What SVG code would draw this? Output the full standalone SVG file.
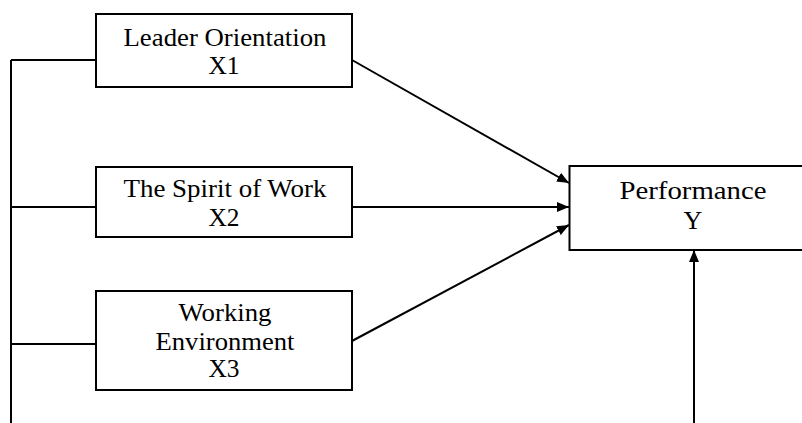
<svg xmlns="http://www.w3.org/2000/svg" width="802" height="423" viewBox="0 0 802 423">
<style>
.box{fill:#fff;stroke:#000;stroke-width:2}
.t{font-family:'Liberation Serif','Times New Roman',serif;font-size:25px;fill:#000;text-anchor:middle}
.c{stroke:#000;stroke-width:2;fill:none}
</style>
<defs>
<marker id="ah" viewBox="0 0 12 10" refX="12" refY="5" markerWidth="12" markerHeight="10" markerUnits="userSpaceOnUse" orient="auto">
<path d="M0,0 L12,5 L0,10 Z" fill="#000"/>
</marker>
</defs>
<g id="connectors">
<path class="c" d="M11,60 V423"/>
<path class="c" d="M11,60 H96"/>
<path class="c" d="M11,207 H96"/>
<path class="c" d="M11,344 H96"/>
<path class="c" d="M352,60 L569,183" marker-end="url(#ah)"/>
<path class="c" d="M352,207 L569,207" marker-end="url(#ah)"/>
<path class="c" d="M352,341 L569,225" marker-end="url(#ah)"/>
<path class="c" d="M694,423 V250" marker-end="url(#ah)"/>
</g>
<g id="x1">
<rect class="box" x="96" y="14" width="256" height="73"/>
<text class="t" x="225" y="46" textLength="203" lengthAdjust="spacingAndGlyphs">Leader Orientation</text>
<text class="t" x="224" y="74" textLength="31" lengthAdjust="spacingAndGlyphs">X1</text>
</g>
<g id="x2">
<rect class="box" x="96" y="167" width="256" height="70"/>
<text class="t" x="225" y="197" textLength="203" lengthAdjust="spacingAndGlyphs">The Spirit of Work</text>
<text class="t" x="224" y="226" textLength="31" lengthAdjust="spacingAndGlyphs">X2</text>
</g>
<g id="x3">
<rect class="box" x="96" y="291" width="256" height="99"/>
<text class="t" x="225" y="321" textLength="93" lengthAdjust="spacingAndGlyphs">Working</text>
<text class="t" x="225" y="350" textLength="139" lengthAdjust="spacingAndGlyphs">Environment</text>
<text class="t" x="224" y="377" textLength="31" lengthAdjust="spacingAndGlyphs">X3</text>
</g>
<g id="y">
<rect class="box" x="569.5" y="166" width="240" height="84"/>
<text class="t" x="693" y="199" style="font-size:26px" textLength="147" lengthAdjust="spacingAndGlyphs">Performance</text>
<text class="t" x="693" y="229" style="font-size:26px">Y</text>
</g>
</svg>
